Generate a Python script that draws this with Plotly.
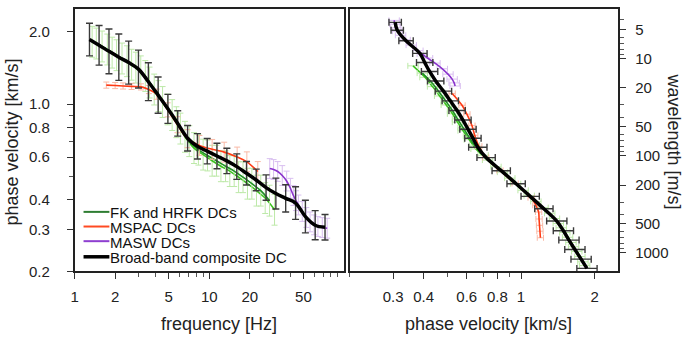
import math
import plotly.graph_objects as go

# ---------------- data ----------------
# Broad-band composite dispersion curve
cdc_freq = [1.29, 1.52, 1.80, 2.13, 2.52, 2.98, 3.53, 4.17, 4.93, 5.83, 6.90, 8.16, 9.65,
            11.4, 13.5, 16.0, 18.9, 22.3, 26.4, 31.2, 36.9, 43.7, 51.7, 61.1, 72.3]
cdc_vel = [1.86, 1.76, 1.66, 1.57, 1.49, 1.40, 1.24, 1.09, 0.955, 0.83, 0.72, 0.666, 0.636,
           0.607, 0.579, 0.548, 0.514, 0.482, 0.448, 0.423, 0.404, 0.386, 0.339, 0.312, 0.306]
cdc_err = [0.17, 0.21, 0.24, 0.25, 0.23, 0.20, 0.20, 0.19, 0.15, 0.13, 0.13, 0.13, 0.13,
           0.13, 0.13, 0.13, 0.12, 0.11, 0.13, 0.16, 0.14, 0.17, 0.17, 0.15, 0.13]
cdc_err_wl = [0.10, 0.10, 0.10, 0.10, 0.10, 0.10, 0.09, 0.09, 0.09, 0.09, 0.09, 0.09, 0.08,
              0.08, 0.08, 0.08, 0.08, 0.08, 0.08, 0.08, 0.08, 0.07, 0.07, 0.06, 0.06]

# FK and HRFK dispersion curves
fk_a_freq = [1.35, 1.6, 1.9, 2.25, 2.65, 3.1, 3.6, 4.2, 4.9, 5.7, 6.6, 7.7, 9.0, 10.5, 12.2,
             14.2, 16.5, 19.2, 22.4, 26.0, 30.5]
fk_a_vel = [1.82, 1.74, 1.64, 1.55, 1.46, 1.37, 1.23, 1.08, 0.95, 0.84, 0.73, 0.655, 0.615,
            0.58, 0.55, 0.525, 0.495, 0.465, 0.435, 0.405, 0.362]
fk_b_freq = [1.45, 1.75, 2.05, 2.45, 2.85, 3.35, 3.9, 4.5, 5.3, 6.1, 7.1, 8.3, 9.7, 11.3,
             13.2, 15.3, 17.8, 20.7, 24.1, 28.0]
fk_b_vel = [1.79, 1.69, 1.60, 1.51, 1.42, 1.31, 1.15, 1.02, 0.90, 0.79, 0.70, 0.645, 0.61,
            0.58, 0.55, 0.525, 0.495, 0.465, 0.435, 0.395]
fk_err = 0.16
fk_err_wl = 0.05

# MSPAC dispersion curve
mspac_freq = [1.72, 2.0, 2.29, 2.65, 3.11, 3.56, 4.07, 4.91, 5.8, 6.89, 8.44, 10.5, 12.9,
              16.1, 19.0, 22.9]
mspac_vel = [1.20, 1.195, 1.19, 1.185, 1.18, 1.15, 1.10, 0.946, 0.82, 0.717, 0.672, 0.647,
             0.63, 0.601, 0.574, 0.523]
mspac_err = [0.03, 0.03, 0.03, 0.03, 0.03, 0.04, 0.05, 0.07, 0.08, 0.09, 0.10, 0.10, 0.10,
             0.10, 0.10, 0.10]
mspac_err_wl = 0.03

# MASW dispersion curve
masw_freq = [28.1, 30.0, 32.2, 34.8, 37.5, 40.0, 42.1, 44.0, 45.9, 49.0, 52.5, 56.0, 60.0,
             64.0, 69.0, 75.0]
masw_vel = [0.538, 0.533, 0.523, 0.503, 0.477, 0.445, 0.415, 0.395, 0.379, 0.356, 0.336,
            0.322, 0.313, 0.308, 0.305, 0.303]
masw_err = 0.10
masw_err_wl = 0.05

# axis ticks
freq_ticks = [1, 2, 5, 10, 20, 50]
freq_minor = [3, 4, 6, 7, 8, 9, 30, 40, 60, 70, 80, 90]
vel_ticks = [0.2, 0.3, 0.4, 0.6, 0.8, 1.0, 2.0]
vel_ticktext = ["0.2", "0.3", "0.4", "0.6", "0.8", "1.0", "2.0"]
vel_minor = [0.5, 0.7, 0.9]
vel2_ticks = [0.3, 0.4, 0.6, 0.8, 1, 2]
vel2_ticktext = ["0.3", "0.4", "0.6", "0.8", "1", "2"]
vel2_minor = [0.2, 0.5, 0.7, 0.9]
wl_ticks = [5, 10, 20, 50, 100, 200, 500, 1000]
wl_minor = [4, 6, 7, 8, 9, 30, 40, 60, 70, 80, 90, 300, 400, 600, 700, 800, 900]

legend_names = ["FK and HRFK DCs", "MSPAC DCs", "MASW DCs", "Broad-band composite DC"]
legend_colors = ["#2e7d32", "#ff4a22", "#8e3fd0", "#000000"]
legend_widths = [2, 2, 2, 3.5]

# ---------------- helpers ----------------
FONT = "Liberation Sans, Arial, sans-serif"


def as_list(e, n):
    return e if isinstance(e, list) else [e] * n


def err_up(vals, rel):
    rel = as_list(rel, len(vals))
    return [v * r for v, r in zip(vals, rel)]


def err_dn(vals, rel):
    rel = as_list(rel, len(vals))
    return [v - v / (1 + r) for v, r in zip(vals, rel)]


def wavelength(freq, vel):
    return [1000.0 * v / f for f, v in zip(freq, vel)]


fig = go.Figure()

series = [
    (fk_a_freq, fk_a_vel, fk_err, fk_err_wl, "#3cc21e", "#bde9a8", 1.6, 1),
    (fk_b_freq, fk_b_vel, fk_err, fk_err_wl, "#1f8f24", "#bde9a8", 1.6, 1),
    (mspac_freq, mspac_vel, mspac_err, mspac_err_wl, "#ff3a14", "#f9b9a6", 1.6, 1),
    (masw_freq, masw_vel, masw_err, masw_err_wl, "#8a33cc", "#d9bff0", 1.6, 1),
]

for freq, vel, e, ewl, col, ecol, lw, et in series:
    fig.add_trace(go.Scatter(
        x=freq, y=vel, mode="lines", line=dict(color=col, width=lw, shape="spline"),
        error_y=dict(type="data", symmetric=False, array=err_up(vel, e),
                     arrayminus=err_dn(vel, e), color=ecol, thickness=et, width=3),
        xaxis="x", yaxis="y", showlegend=False, hoverinfo="skip"))
    fig.add_trace(go.Scatter(
        x=vel, y=wavelength(freq, vel), mode="lines",
        line=dict(color=col, width=lw, shape="spline"),
        error_x=dict(type="data", symmetric=False, array=err_up(vel, ewl),
                     arrayminus=err_dn(vel, ewl), color=ecol, thickness=et, width=3),
        xaxis="x2", yaxis="y2", showlegend=False, hoverinfo="skip"))

# composite curve
fig.add_trace(go.Scatter(
    x=cdc_freq, y=cdc_vel, mode="lines", line=dict(color="#000000", width=3.5, shape="spline"),
    error_y=dict(type="data", symmetric=False, array=err_up(cdc_vel, cdc_err),
                 arrayminus=err_dn(cdc_vel, cdc_err), color="#3a3a3a", thickness=1.4, width=3.5),
    xaxis="x", yaxis="y", showlegend=False, hoverinfo="skip"))
fig.add_trace(go.Scatter(
    x=cdc_vel, y=wavelength(cdc_freq, cdc_vel), mode="lines",
    line=dict(color="#000000", width=3.5, shape="spline"),
    error_x=dict(type="data", symmetric=False, array=err_up(cdc_vel, cdc_err_wl),
                 arrayminus=err_dn(cdc_vel, cdc_err_wl), color="#3a3a3a", thickness=1.4, width=3.5),
    xaxis="x2", yaxis="y2", showlegend=False, hoverinfo="skip"))

# ---------------- layout ----------------
W, H = 686, 339
LX0, LX1 = 71, 342
RX0, RX1 = 348, 618
PY0, PY1 = 9, 278

axis_common = dict(
    type="log", showline=True, linecolor="#222222", linewidth=1.5, mirror=True,
    ticks="outside", tickcolor="#333333", tickwidth=1, ticklen=6,
    showgrid=False, zeroline=False,
    tickfont=dict(family=FONT, size=15, color="#222222"),
)
minor_common = dict(ticks="outside", ticklen=4, tickcolor="#555555", tickwidth=1, showgrid=False)

fig.update_layout(
    width=W, height=H, margin=dict(l=0, r=0, t=0, b=0),
    paper_bgcolor="white", plot_bgcolor="white", showlegend=False,
    font=dict(family=FONT, color="#222222"),
    xaxis=dict(axis_common, domain=[LX0 / W, LX1 / W], anchor="y",
               range=[0, 2], tickvals=freq_ticks, ticktext=[str(t) for t in freq_ticks],
               ticklabelstandoff=5,
               minor=dict(minor_common, tickvals=freq_minor)),
    yaxis=dict(axis_common, domain=[1 - PY1 / H, 1 - PY0 / H], anchor="x",
               range=[math.log10(0.2), math.log10(2.5)], tickvals=vel_ticks,
               ticktext=vel_ticktext, ticklabelstandoff=14,
               minor=dict(minor_common, tickvals=vel_minor)),
    xaxis2=dict(axis_common, domain=[RX0 / W, RX1 / W], anchor="y2",
                range=[math.log10(0.2), math.log10(2.5)], tickvals=vel2_ticks,
                ticktext=vel2_ticktext, ticklabelstandoff=5,
                minor=dict(minor_common, tickvals=vel2_minor)),
    yaxis2=dict(axis_common, domain=[1 - PY1 / H, 1 - PY0 / H], anchor="x2", side="right",
                range=[math.log10(1550), math.log10(3.07)], tickvals=wl_ticks,
                ticktext=[str(t) for t in wl_ticks], ticklabelstandoff=6,
                minor=dict(minor_common, tickvals=wl_minor)),
)

annotations = [
    dict(text="phase velocity [km/s]", x=8 / W, y=1 - 145 / H, textangle=-90,
         font=dict(size=18)),
    dict(text="frequency [Hz]", x=216 / W, y=1 - 332 / H, font=dict(size=18)),
    dict(text="phase velocity [km/s]", x=487 / W, y=1 - 332 / H, font=dict(size=18)),
    dict(text="wavelength [m/s]", x=674 / W, y=1 - 145 / H, textangle=90,
         font=dict(size=18)),
]
for a in annotations:
    a.update(xref="paper", yref="paper", showarrow=False, xanchor="center", yanchor="middle")
    a["font"].update(family=FONT, color="#222222")

# hand-made compact legend
shapes = []
leg_y = [218, 233, 248, 264]
for name, col, lw, yy in zip(legend_names, legend_colors, legend_widths, leg_y):
    shapes.append(dict(type="line", xref="paper", yref="paper",
                       x0=80 / W, x1=106 / W, y0=1 - (yy - 1) / H, y1=1 - (yy - 1) / H,
                       line=dict(color=col, width=lw)))
    annotations.append(dict(text=name, xref="paper", yref="paper", x=105 / W, y=1 - yy / H,
                            xanchor="left", yanchor="middle", showarrow=False,
                            font=dict(family=FONT, size=15, color="#111111")))

fig.update_layout(annotations=annotations, shapes=shapes)

fig.write_html(
    "out.html",
    config={"displayModeBar": False},
    post_script="document.body.style.margin='0';document.body.style.overflow='hidden';",
)
